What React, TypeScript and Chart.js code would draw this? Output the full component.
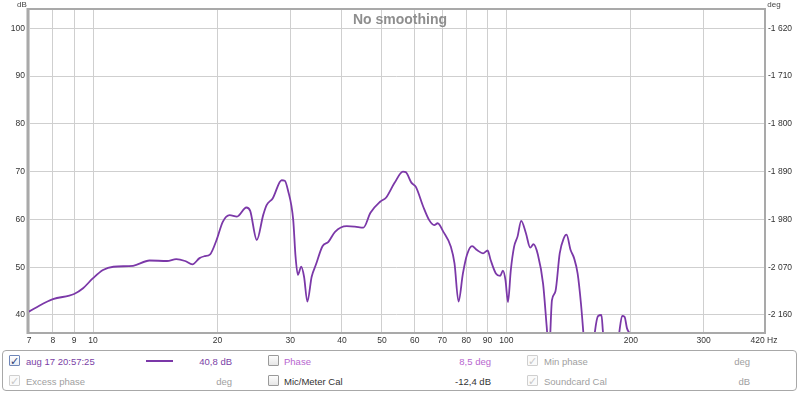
import React, { useEffect, useRef } from "react";
import { Chart, registerables } from "chart.js";

Chart.register(...registerables);

// ---- data ----
const freqHz = [
  7.0, 7.43, 8.0, 9.0, 9.46, 10.0, 10.57, 11.2, 12.5, 13.7, 15.1, 15.9, 16.7, 17.4, 18.1, 18.6, 19.2,
  19.9, 20.6, 21.4, 22.3, 23.5, 24.0, 24.9, 25.8, 26.3, 27.2, 28.6, 29.1, 29.6, 30.5, 30.9, 31.3,
  31.9, 32.4, 33.0, 33.8, 34.6, 35.9, 37.1, 38.5, 41.1, 43.0, 45.1, 46.9, 49.5, 51.2, 53.6, 56.2,
  57.1, 58.9, 60.4, 62.9, 65.0, 66.9, 68.2, 70.4, 73.4, 74.9, 76.6, 78.5, 80.3, 82.6, 84.9, 87.8,
  90.1, 91.6, 94.3, 96.6, 98.1, 99.5, 100.9, 102.5, 104.4, 106.4, 108.6, 111.5, 114.2, 116.3, 119.2,
  122.7, 125.2, 126.8, 128.9, 131.4, 134.6, 137.6, 139.8, 143.0, 145.8, 148.7, 151.5, 153.5, 158.0,
  163.7, 166.7, 169.8, 171.3, 180.0, 187.6, 190.6, 193.2, 195.8, 199.5,
];
const levelDb = [
  40.7, 42.0, 43.3, 44.4, 45.6, 47.7, 49.4, 50.1, 50.3, 51.4, 51.3, 51.7, 51.3, 50.6, 51.9, 52.3, 52.7,
  55.7, 59.5, 60.9, 60.6, 62.5, 61.8, 55.7, 60.9, 63.0, 64.4, 68.2, 68.1, 66.2, 59.9, 52.2, 48.4,
  50.1, 48.0, 42.8, 48.0, 50.5, 54.4, 55.3, 57.4, 58.6, 58.5, 58.3, 61.4, 63.7, 64.6, 67.6, 70.0,
  69.9, 67.7, 66.8, 62.7, 59.9, 58.8, 59.2, 57.4, 54.3, 50.8, 42.8, 48.7, 52.6, 54.4, 53.6, 52.9,
  53.5, 51.5, 48.7, 48.2, 49.3, 47.3, 42.7, 49.4, 54.3, 56.4, 59.7, 57.1, 54.1, 54.8, 52.6,
  46.5, 37.5, 32.0, 43.1, 44.9, 52.9, 56.0, 56.8, 53.6, 51.9, 48.7, 42.4, 36.4, 22.0,
  36.4, 39.8, 40.0, 36.4, 22.0, 36.4, 39.8, 39.6, 37.2, 36.0,
];

const xTickValues = [7, 8, 9, 10, 20, 30, 40, 50, 60, 70, 80, 90, 100, 200, 300, 420];
const dbTickValues = [40, 50, 60, 70, 80, 90, 100];
const degTickValues = [-2160, -2070, -1980, -1890, -1800, -1710, -1620];

const DB_MIN = 36.44;
const DB_MAX = 103.83;
const degOf = (db: number) => -1620 + (db - 100) * 9;

const FONT = "'Liberation Sans', Arial, sans-serif";
const LINE_COLOR = "#7b38a8";
const GRID_COLOR = "#cfcfcf";

function fmtDeg(v: number): string {
  const s = Math.round(Math.abs(v)).toString().replace(/\B(?=(\d{3})+(?!\d))/g, " ");
  return (v < 0 ? "-" : "") + s;
}

const framePlugin = {
  id: "frame",
  afterDraw(chart: any) {
    const { ctx, chartArea } = chart;
    const { left, right, top, bottom } = chartArea;
    ctx.save();
    // frame
    ctx.strokeStyle = "#a9a9a9";
    ctx.lineWidth = 2;
    ctx.strokeRect(left - 1, top - 1, right - left + 2, bottom - top + 2);
    ctx.strokeStyle = "#d2d2d2";
    ctx.lineWidth = 1;
    ctx.beginPath();
    ctx.moveTo(left - 2.5, top - 2);
    ctx.lineTo(left - 2.5, bottom + 2);
    ctx.stroke();
    // title
    ctx.fillStyle = "#8e8e8e";
    ctx.font = `bold 14px ${FONT}`;
    ctx.textAlign = "center";
    ctx.textBaseline = "middle";
    ctx.fillText("No smoothing", 400, 20);
    // unit labels
    ctx.fillStyle = "#444";
    ctx.font = `8px ${FONT}`;
    ctx.textAlign = "center";
    ctx.fillText("dB", 22, 5);
    ctx.fillText("deg", 774, 5);
    ctx.restore();
  },
};

function CheckBox({ state }: { state: "on" | "off" | "dim" }) {
  const base: React.CSSProperties = {
    position: "absolute",
    width: 11,
    height: 11,
    borderRadius: 1,
    boxSizing: "border-box",
    fontSize: 11,
    lineHeight: "11px",
    textAlign: "center",
    fontFamily: "'DejaVu Sans', sans-serif",
  };
  if (state === "on")
    return (
      <div style={{ ...base, border: "1px solid #6f86b8", background: "linear-gradient(#fff,#e8ecf4)", color: "#2c3f7a", fontWeight: "bold" }}>✓</div>
    );
  if (state === "dim")
    return (
      <div style={{ ...base, border: "1px solid #cfcfcf", background: "#fafafa", color: "#c8c8c8" }}>✓</div>
    );
  return <div style={{ ...base, border: "1px solid #9a9a9a", background: "linear-gradient(#fdfdfd,#e6e6e6)" }} />;
}

function Item({ x, y, state }: { x: number; y: number; state: "on" | "off" | "dim" }) {
  return (
    <div style={{ position: "absolute", left: x, top: y }}>
      <CheckBox state={state} />
    </div>
  );
}

function Txt({ x, y, text, color, right }: { x: number; y: number; text: string; color: string; right?: boolean }) {
  const st: React.CSSProperties = {
    position: "absolute",
    top: y,
    fontFamily: FONT,
    fontSize: 9.5,
    lineHeight: "12px",
    color,
    whiteSpace: "nowrap",
  };
  if (right) {
    st.right = 800 - x;
    st.textAlign = "right";
  } else st.left = x;
  return <div style={st}>{text}</div>;
}

export default function App() {
  const ref = useRef<HTMLCanvasElement | null>(null);

  useEffect(() => {
    document.body.style.margin = "0";
    const canvas = ref.current;
    if (!canvas) return;
    const points = freqHz.map((f, i) => ({ x: f, y: levelDb[i] }));
    const chart = new Chart(canvas, {
      type: "line",
      data: {
        datasets: [
          {
            data: points,
            borderColor: LINE_COLOR,
            borderWidth: 1.8,
            pointRadius: 0,
            fill: false,
            cubicInterpolationMode: "monotone",
            yAxisID: "y",
          },
        ],
      },
      options: {
        animation: false,
        responsive: false,
        maintainAspectRatio: false,
        devicePixelRatio: 1,
        layout: { padding: { top: 10, left: 0, right: 0, bottom: 0 } },
        plugins: { legend: { display: false }, tooltip: { enabled: false }, title: { display: false } },
        scales: {
          x: {
            type: "logarithmic",
            min: 7,
            max: 420,
            afterBuildTicks: (s: any) => {
              s.ticks = xTickValues.map((v) => ({ value: v }));
            },
            afterFit: (s: any) => {
              s.height = 16;
            },
            grid: { color: GRID_COLOR, drawTicks: false, lineWidth: 1 },
            border: { display: false },
            ticks: {
              padding: 4,
              autoSkip: false,
              maxRotation: 0,
              minRotation: 0,
              color: "#333",
              font: { family: FONT, size: 8.5 },
              callback: (v: any) => (Number(v) === 420 ? "420 Hz" : String(v)),
            },
          },
          y: {
            type: "linear",
            position: "left",
            min: DB_MIN,
            max: DB_MAX,
            afterBuildTicks: (s: any) => {
              s.ticks = dbTickValues.map((v) => ({ value: v }));
            },
            afterFit: (s: any) => {
              s.width = 29;
            },
            grid: { color: GRID_COLOR, drawTicks: false, lineWidth: 1 },
            border: { display: false },
            ticks: { padding: 4, color: "#333", font: { family: FONT, size: 8.5 }, callback: (v: any) => String(v) },
          },
          y1: {
            type: "linear",
            position: "right",
            min: degOf(DB_MIN),
            max: degOf(DB_MAX),
            afterBuildTicks: (s: any) => {
              s.ticks = degTickValues.map((v) => ({ value: v }));
            },
            afterFit: (s: any) => {
              s.width = 36;
            },
            grid: { display: false, drawTicks: false },
            border: { display: false },
            ticks: { padding: 4, color: "#333", font: { family: FONT, size: 8.5 }, callback: (v: any) => fmtDeg(Number(v)) },
          },
        },
      } as any,
      plugins: [framePlugin],
    });
    return () => chart.destroy();
  }, []);

  const purple = "#7b3fa6";
  const pink = "#b766cf";
  const gray = "#a0a0a0";
  const dark = "#333";
  const r1 = 355;
  const r2 = 375;
  const t1 = 356;
  const t2 = 376;

  return (
    <div style={{ position: "fixed", left: 0, top: 0, width: 800, height: 393, background: "#fff", overflow: "hidden" }}>
      <canvas ref={ref} width={800} height={348} style={{ position: "absolute", left: 0, top: 0, width: 800, height: 348 }} />
      <div
        style={{
          position: "absolute",
          left: 2,
          top: 350,
          width: 795,
          height: 41,
          boxSizing: "border-box",
          border: "1px solid #a8a8a8",
          borderRadius: 4,
        }}
      />
      <Item x={9} y={r1} state="on" />
      <Txt x={26} y={t1} text="aug 17 20:57:25" color={purple} />
      <div style={{ position: "absolute", left: 146, top: 360, width: 27, height: 2, background: LINE_COLOR }} />
      <Txt x={232} y={t1} text="40,8 dB" color={purple} right />
      <Item x={268} y={r1} state="off" />
      <Txt x={284} y={t1} text="Phase" color={pink} />
      <Txt x={491} y={t1} text="8,5 deg" color={pink} right />
      <Item x={527} y={r1} state="dim" />
      <Txt x={544} y={t1} text="Min phase" color={gray} />
      <Txt x={750} y={t1} text="deg" color={gray} right />

      <Item x={9} y={r2} state="dim" />
      <Txt x={26} y={t2} text="Excess phase" color={gray} />
      <Txt x={232} y={t2} text="deg" color={gray} right />
      <Item x={268} y={r2} state="off" />
      <Txt x={284} y={t2} text="Mic/Meter Cal" color={dark} />
      <Txt x={491} y={t2} text="-12,4 dB" color={dark} right />
      <Item x={527} y={r2} state="dim" />
      <Txt x={544} y={t2} text="Soundcard Cal" color={gray} />
      <Txt x={750} y={t2} text="dB" color={gray} right />
    </div>
  );
}
